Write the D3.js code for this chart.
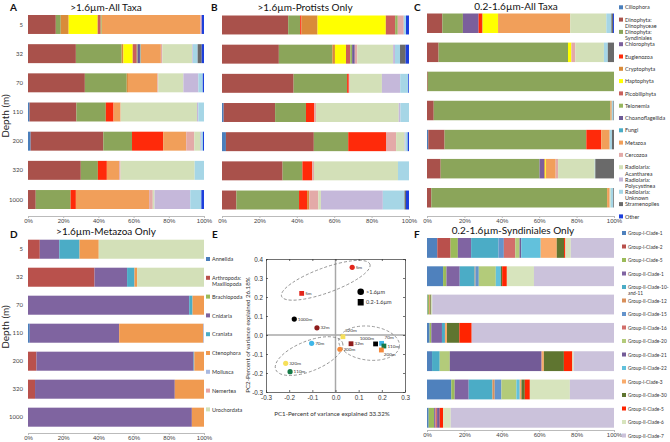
<!DOCTYPE html>
<html><head><meta charset="utf-8">
<script src="https://cdn.jsdelivr.net/npm/d3@7"></script>
<style>body{margin:0;background:#fff}svg{display:block;font-family:Lato,'Open Sans',sans-serif}</style>
</head><body><svg id="c" width="670" height="442"></svg>
<script>
// ---------- DATA ----------
const depths = ["5","32","70","110","200","320","1000"];
const taxa = ["Ciliophora","Dinophyta:\nDinophyceae","Dinophyta:\nSyndiniales","Chlorophyta","Euglenozoa","Cryptophyta","Haptophyta","Picobiliphyta","Telonemia","Choanoflagellida","Fungi","Metazoa","Cercozoa","Radiolaria:\nAcantharea","Radiolaria:\nPolycystinea","Radiolaria:\nUnknown","Stramenopiles","Other"];
const taxaColors = ["#4a7ebb","#a9514b","#8ba55a","#7b5f9c","#ff2a0a","#d98b3a","#ffff00","#c9605c","#97b65e","#6d5a96","#4aacc6","#f19f5a","#e3aaa8","#d3e0b8","#c5b8da","#a6d6e6","#6a6a6a","#1c3fdc"];

// >1.6um all taxa (% per depth, taxa order)
const allTaxaLarge = [
  [0,15.8,2.8,0,0,4.5,16.5,1.7,0.6,0,0,56.0,0.8,0,0,0,0,1.3],
  [0,27.2,26.0,0,0,1.0,5.3,2.3,0.5,1.3,0.4,11.5,0.8,17.0,0.4,2.7,2.3,1.3],
  [0,32.3,23.8,0,0,0.7,0,0,0,0,0,16.7,0.5,14.3,8.5,2.5,0,0.7],
  [0.9,26.6,16.7,0,4.4,0,0,0,0,0,0,4.0,0.1,43.3,0.8,3.2,0,0],
  [1.5,41.3,16.3,0,17.7,0,0,0,0,0,0,13.1,4.6,3.4,0.5,1.0,0,0.6],
  [0,30.0,9.7,0,5.1,0,0,0,0,0,0,7.0,0.8,42.1,0,5.3,0,0],
  [0,4.4,19.8,0,3.0,0,0,0,0,0,0,41.6,2.1,1.0,20.3,6.3,0,1.5]
];
// >1.6um protists only
const protistsLarge = [
  [0,35.4,6.4,0,0.7,8.6,36.5,5.0,1.4,0,0,0,3.2,0,0,1.2,0,1.6],
  [0,30.4,28.6,0,0,1.4,5.9,2.3,1.0,1.4,0,0,1.4,19.1,1.0,2.7,3.0,1.8],
  [0,38.3,28.6,0,0.9,0,0,0,0,0,0,0,0.5,17.2,9.8,4.3,0,0.4],
  [0.9,27.5,16.5,0,4.5,0,0,0,0,0,0,0,0.9,44.2,0.9,4.6,0,0],
  [2.1,47.0,18.4,0,20.2,0,0,0,0,0,0,0,5.4,4.5,0.5,1.2,0,0.7],
  [0,32.4,10.6,0,5.2,0,0,0,0,0,0,0,1.0,44.9,0,5.9,0,0],
  [0,7.7,33.5,0,4.3,1.2,0,0,0,0,0,0,4.8,1.4,33.1,11.6,0.8,1.6]
];
// 0.2-1.6um all taxa
const allTaxaSmall = [
  [0,8.2,11.0,8.4,1.8,0.4,8.2,0,0,0,0,38.6,0,19.3,0,2.7,0.9,0.5],
  [0,6.2,69.2,0,0,0,1.8,0,0,0,0,0,2.1,15.3,0,2.1,3.3,0],
  [0,0.4,99.6,0,0,0,0,0,0,0,0,0,0,0,0,0,0,0],
  [0,3.6,94.5,0,0,0,0,0,0,0,0,0.7,0,0,0,0.9,0.3,0],
  [0.7,8.7,75.8,0,8.0,0,0,0,0,0,0,4.5,0,0,0,1.2,1.1,0],
  [0,7.3,52.9,2.5,0,0.5,0.4,0,0,0,0,5.2,1.3,19.6,0,0.3,10.0,0],
  [0,2.3,94.0,0,0,0,0,0,0,0,0,1.4,0,0.5,0,1.4,0.4,0]
];

const metazoa = ["Annelida","Arthropoda:\nMaxillopoda","Brachiopoda","Cnidaria","Craniata","Ctenophora","Mollusca","Nemertea","Urochordata"];
const metazoaColors = ["#4a7ebb","#b9514c","#9bbb59","#7f64a0","#4bacc6","#f09a50","#a9b9e0","#e6a5a5","#d3e0b8"];
const metazoaLarge = [
  [0,6.7,0,11.1,11.5,10.9,0,0,59.8],
  [0,37.8,0,18.5,4.2,1.5,0,0,38.0],
  [0,0,0,91.6,1.9,6.5,0,0,0],
  [1.0,0,0,50.8,0,47.8,0.4,0,0],
  [0,4.8,0,89.3,0.4,5.5,0,0,0],
  [0,4.0,0,79.4,0,16.6,0,0,0],
  [0,0,0,93.1,0,6.9,0,0,0]
];

const clades = ["Group-I-Clade-1","Group-I-Clade-2","Group-I-Clade-5","Group-II-Clade-1","Group-II-Clade-10-\nand-11","Group-II-Clade-12","Group-II-Clade-15","Group-II-Clade-16","Group-II-Clade-20","Group-II-Clade-21","Group-II-Clade-22","Group-I-Clade-3","Group-II-Clade-30","Group-II-Clade-5","Group-II-Clade-6","Group-II-Clade-7"];
const cladeColors = ["#4f81bd","#b9504c","#9bbb59","#8064a2","#4bacc6","#d98f5a","#6494cc","#d26e6a","#b3cb7a","#735b97","#62c1dc","#f9ab6b","#5f7530","#ff2400","#d7e4bd","#cbc2db"];
const syndinialesSmall = [
  [5.5,7.1,3.9,7.1,14.6,0,2.9,6.1,2.3,0.9,10.4,8.6,3.9,0.7,2.9,23.1],
  [8.6,0,1.8,7.1,8.0,0.4,1.8,0,9.1,0,2.7,0,0.7,2.5,14.5,42.8],
  [0.3,0,0.9,0,0,0.6,0,0,0,0,0,0,0.5,0,0.5,97.2],
  [1.4,0,0.9,5.7,1.6,0,0,0,0,0,0,1.1,6.6,6.6,0,76.1],
  [2.7,0,0,0,4.1,0,0,0,5.4,49.1,0,1.2,10.7,4.5,0.7,21.6],
  [13.0,0,1.8,7.5,12.7,1.2,3.6,0,8.0,0,1.8,0.9,1.8,2.7,21.4,23.6],
  [0.9,0,2.9,0.7,0,0,0,0.9,0,1.4,0,0,0,1.8,4.1,87.3]
];

// PCA (panel E)
const pcaLabels = ["5m","5m","1000m","32m","320m","70m","200m","32m","1000m","70m","110m","200m","320m","110m"];
const pcaDepth  = [5,5,1000,32,320,70,200,32,1000,70,110,200,320,110];
const pcaSize   = [">1.6µm","0.2-1.6µm",">1.6µm",">1.6µm","0.2-1.6µm",">1.6µm",">1.6µm","0.2-1.6µm","0.2-1.6µm","0.2-1.6µm","0.2-1.6µm","0.2-1.6µm",">1.6µm",">1.6µm"];
const pc1 = [0.072,-0.146,-0.178,-0.080,0.032,-0.103,0.019,0.067,0.173,0.199,0.209,0.198,-0.215,-0.196];
const pc2 = [0.356,0.219,0.084,0.038,-0.009,-0.044,-0.075,-0.046,-0.047,-0.044,-0.058,-0.079,-0.149,-0.193];
const depthColors = {5:"#e3261b",32:"#8e1c1c",70:"#3fb6e8",110:"#157a48",200:"#f5893a",320:"#f6e05a",1000:"#000000"};
const pcaTicks = [-0.3,-0.2,-0.1,0.0,0.1,0.2,0.3];
const pcaYTicks = [-0.3,-0.2,-0.1,0.0,0.1,0.2,0.3,0.4];

// ---------- DRAW ----------
const svg = d3.select("#c");
const FS = 6;

function stackedPanel(rows, colors, xr, yr, padIn, axisY, showDepth) {
  const keys = colors.map((c,i)=>i);
  const table = rows.map((r,i)=>{ const o={depth:depths[i]}; r.forEach((v,j)=>o[j]=v); return o; });
  const series = d3.stack().keys(keys).offset(d3.stackOffsetExpand)(table);
  const x = d3.scaleLinear().domain([0,1]).range(xr);
  const y = d3.scaleBand().domain(depths).range(yr).paddingInner(padIn).paddingOuter(0);
  const g = svg.append("g");
  g.selectAll("g.s").data(series).join("g").attr("fill",(d,i)=>colors[i])
    .selectAll("rect").data(d=>d.filter(p=>p[1]-p[0]>0)).join("rect")
    .attr("x",d=>x(d[0])).attr("width",d=>x(d[1])-x(d[0]))
    .attr("y",d=>y(d.data.depth)).attr("height",y.bandwidth());
  const ax = g.append("g").attr("transform",`translate(0,${axisY})`)
    .call(d3.axisBottom(x).tickValues([0,.2,.4,.6,.8,1]).tickFormat(d3.format(".0%")).tickSize(2).tickPadding(1));
  ax.select(".domain").attr("stroke","#bbb");
  ax.selectAll(".tick line").attr("stroke","#bbb");
  ax.selectAll("text").attr("font-size",FS).attr("fill","#444");
  if (showDepth) {
    g.selectAll("text.dl").data(depths).join("text").attr("class","dl")
      .attr("x",xr[0]-5).attr("y",d=>y(d)+y.bandwidth()/2).attr("dy","0.35em")
      .attr("text-anchor","end").attr("font-size",FS).attr("fill","#444").text(d=>d);
  }
  return g;
}

function text(x,y,t,opt={}) {
  const e = svg.append("text").attr("x",x).attr("y",y).text(t)
    .attr("font-size",opt.size||10).attr("fill",opt.fill||"#111")
    .attr("text-anchor",opt.anchor||"start");
  if (opt.bold) e.attr("font-weight","bold");
  if (opt.rotate) e.attr("transform",`rotate(-90,${x},${y})`);
  return e;
}

function legend(names, colors, mx, y0, step, sx) {
  names.forEach((n,i)=>{
    const y = y0 + i*step;
    svg.append("rect").attr("x",mx).attr("y",y-2).attr("width",4).attr("height",4).attr("fill",colors[i]);
    n.split("\n").forEach((ln,k)=>{
      svg.append("text").attr("transform",`translate(${mx+6},${y+2.1+k*6.3}) scale(${sx},1)`)
        .attr("font-size",FS).attr("fill","#333").text(ln);
    });
  });
}

// Panel A
stackedPanel(allTaxaLarge, taxaColors, [28,204], [15,209], 0.35, 216, true);
text(106,10.5,">1.6µm-All Taxa",{anchor:"middle"});
text(10,11,"A",{bold:true});
text(8.5,116,"Depth (m)",{rotate:true,anchor:"middle",size:10,fill:"#222"});

// Panel B
stackedPanel(protistsLarge, taxaColors, [222,409], [15.5,209.5], 0.35, 216, false);
text(305,10.5,">1.6µm-Protists Only",{anchor:"middle"});
text(211,11,"B",{bold:true});

// Panel C
stackedPanel(allTaxaSmall, taxaColors, [427,614], [13.5,207.5], 0.33, 216, false);
text(516,9.5,"0.2-1.6µm-All Taxa",{anchor:"middle"});
text(414,11,"C",{bold:true});
legend(taxa, taxaColors, 619, 7.3, 12.3, 0.92);

// Panel D
stackedPanel(metazoaLarge, metazoaColors, [28,204], [239.7,426.7], 0.32, 433, true);
text(106,234.5,">1.6µm-Metazoa Only",{anchor:"middle"});
text(10,238,"D",{bold:true});
text(8.5,327,"Depth (m)",{rotate:true,anchor:"middle",size:10,fill:"#222"});
legend(metazoa, metazoaColors, 206, 259, 18.8, 0.92);

// Panel F
stackedPanel(syndinialesSmall, cladeColors, [427,614], [238,427.7], 0.3, 430, false);
text(513,234,"0.2-1.6µm-Syndiniales Only",{anchor:"middle"});
text(414,238,"F",{bold:true});
legend(clades, cladeColors, 622, 233, 13.5, 0.8);

// Panel E (PCA)
text(212,238,"E",{bold:true});
const ex = d3.scaleLinear().domain([-0.3,0.3]).range([266,405]);
const ey = d3.scaleLinear().domain([-0.3,0.4]).range([392,259]);
const eg = svg.append("g");
const fmt = d=>d.toFixed(1);
eg.append("line").attr("x1",ex(0)).attr("x2",ex(0)).attr("y1",ey(0.4)).attr("y2",ey(-0.3)).attr("stroke","#a8a8a8").attr("stroke-width",1.5);
eg.append("line").attr("x1",ex(-0.3)).attr("x2",ex(0.3)).attr("y1",ey(0)).attr("y2",ey(0)).attr("stroke","#a8a8a8").attr("stroke-width",1.5);
function styleAx(a, labels){
  a.select(".domain").attr("stroke","#333").attr("stroke-width",0.7);
  a.selectAll(".tick line").attr("stroke","#333").attr("stroke-width",0.7);
  a.selectAll("text").attr("font-size",6.3).attr("fill","#333");
  if(!labels) a.selectAll("text").remove();
}
styleAx(eg.append("g").attr("transform",`translate(0,${ey(-0.3)})`).call(d3.axisBottom(ex).tickValues(pcaTicks).tickFormat(fmt).tickSizeInner(-2).tickSizeOuter(0).tickPadding(4)),true);
styleAx(eg.append("g").attr("transform",`translate(${ex(-0.3)},0)`).call(d3.axisLeft(ey).tickValues(pcaYTicks).tickFormat(fmt).tickSizeInner(-2).tickSizeOuter(0).tickPadding(3)),true);
styleAx(eg.append("g").attr("transform",`translate(0,${ey(0.4)})`).call(d3.axisTop(ex).tickValues(pcaTicks).tickSizeInner(-2).tickSizeOuter(0)),false);
styleAx(eg.append("g").attr("transform",`translate(${ex(0.3)},0)`).call(d3.axisRight(ey).tickValues(pcaYTicks).tickSizeInner(-2).tickSizeOuter(0)),false);
text(332,415.5,"PC1-Percent of variance explained 33.32%",{anchor:"middle",size:6.2,fill:"#333"});
text(249.5,335,"PC2-Percent of variance explained 26.18%",{anchor:"middle",size:6.2,fill:"#333",rotate:true});

const ellipses = [
  {cx:-0.042, cy:0.288, rx:47, ry:12.5, a:-20},
  {cx:-0.114, cy:-0.111, rx:36, ry:15, a:-22},
  {cx:0.145, cy:-0.043, rx:30.5, ry:17, a:6}
];
ellipses.forEach(e=>{
  eg.append("ellipse").attr("cx",0).attr("cy",0).attr("rx",e.rx).attr("ry",e.ry)
    .attr("transform",`translate(${ex(e.cx)},${ey(e.cy)}) rotate(${e.a})`)
    .attr("fill","none").attr("stroke","#777").attr("stroke-width",0.7).attr("stroke-dasharray","3,2");
});

const labelOff = {4:[2,-4.5,"start"],8:[-1.5,-3.5,"end"],9:[3,-4,"start"],11:[2.5,6,"start"]};
pc1.forEach((v,i)=>{
  const px = ex(v), py = ey(pc2[i]), col = depthColors[pcaDepth[i]];
  if (pcaSize[i]===">1.6µm") eg.append("circle").attr("cx",px).attr("cy",py).attr("r",2.6).attr("fill",col);
  else eg.append("rect").attr("x",px-2.4).attr("y",py-2.4).attr("width",4.8).attr("height",4.8).attr("fill",col);
  const o = labelOff[i] || [3.5,1.6,"start"];
  eg.append("text").attr("x",px+o[0]).attr("y",py+o[1]).attr("text-anchor",o[2])
    .attr("font-size",4.6).attr("fill","#333").text(pcaLabels[i]);
});
eg.append("circle").attr("cx",360.7).attr("cy",291.7).attr("r",3.3).attr("fill","#000");
eg.append("rect").attr("x",357.7).attr("y",299).attr("width",6).attr("height",6.5).attr("fill","#000");
text(366,293.6,">1.6µm",{size:5.5,fill:"#333"});
text(366,304.2,"0.2-1.6µm",{size:5.5,fill:"#333"});
</script></body></html>
